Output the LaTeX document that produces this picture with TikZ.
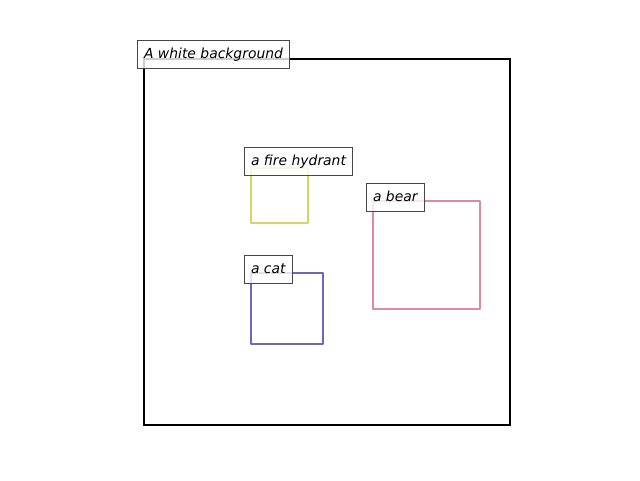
\documentclass[tikz,border=0pt]{standalone}
\usepackage{fontspec}
\setmainfont{DejaVu Sans}
\begin{document}
\begin{tikzpicture}[x=1pt,y=-1pt,
  lab/.style={draw=black!72, line width=1.1pt, fill=white, fill opacity=0.8, text opacity=1,
    anchor=north west, inner xsep=6.5pt, inner ysep=7pt, text height=11pt, text depth=2.5pt,
    font=\fontsize{13.9}{16}\selectfont\itshape},
  obj/.style={line width=2.7pt, line join=round}]
\definecolor{hyd}{RGB}{212,214,106}
\definecolor{bear}{RGB}{224,137,160}
\definecolor{cat}{RGB}{114,101,184}
\useasboundingbox[fill=white] (0,0) rectangle (640,480);
\draw[line width=2.2pt] (144,59) rectangle (510,425);
\draw[obj, draw=hyd] (251,168) rectangle (308,223);
\draw[obj, draw=bear] (373,201) rectangle (480,309);
\draw[obj, draw=cat] (251,273) rectangle (323,344);
\node[lab] (bg) at (137,40) {A white background};
\node[lab] (hydrant) at (244,147) {a fire hydrant};
\node[lab] (bearlab) at (366,183) {a bear};
\node[lab] (catlab) at (244,255) {a cat};
\end{tikzpicture}
\end{document}
